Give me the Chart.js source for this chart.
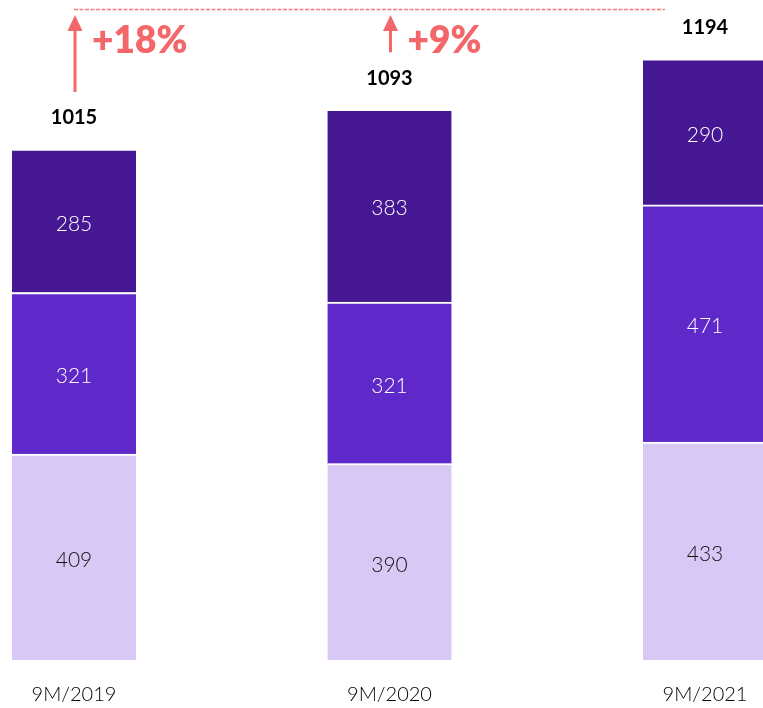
<!DOCTYPE html>
<html>
<head>
<meta charset="utf-8">
<script src="https://cdn.jsdelivr.net/npm/chart.js@4.4.1/dist/chart.umd.min.js"></script>
<style>
html,body{margin:0;padding:0;background:#fff;}
#wrap{width:763px;height:708px;position:relative;}
</style>
</head>
<body>
<div id="wrap"><canvas id="c" width="763" height="708"></canvas></div>
<script>
const categories = ['9M/2019', '9M/2020', '9M/2021'];
const seriesBottom = [409, 390, 433];
const seriesMiddle = [321, 321, 471];
const seriesTop = [285, 383, 290];
const totals = [1015, 1093, 1194];
const growthLabels = ['+18%', '+9%'];

const CORAL = '#f3666a';

const overlay = {
  id: 'overlay',
  afterDatasetsDraw(chart) {
    const ctx = chart.ctx;
    const xs = chart.scales.x;
    const area = chart.chartArea;
    ctx.save();
    // segment values
    chart.data.datasets.forEach((ds, i) => {
      const meta = chart.getDatasetMeta(i);
      meta.data.forEach((el, j) => {
        const cy = (el.y + el.base) / 2 + 3;
        ctx.fillStyle = i === 0 ? '#111' : '#fff';
        ctx.font = '300 21px Lato';
        ctx.textAlign = 'center';
        ctx.textBaseline = 'middle';
        ctx.fillText(String(ds.data[j]), el.x, cy);
      });
    });
    // totals
    const topMeta = chart.getDatasetMeta(chart.data.datasets.length - 1);
    const totalY = [];
    topMeta.data.forEach((el, j) => {
      const y = el.y - 31;
      totalY.push(y);
      ctx.fillStyle = '#000';
      ctx.font = 'bold 20px Lato';
      ctx.textAlign = 'center';
      ctx.textBaseline = 'middle';
      ctx.fillText(String(totals[j]), el.x, y);
    });
    // dashed line
    const lineY = area.top + 9.5;
    const xStart = xs.getPixelForValue(0);
    const xEnd = xs.getPixelForValue(2) - 40;
    ctx.strokeStyle = '#f47a7d';
    ctx.lineWidth = 1.5;
    ctx.setLineDash([4, 1.5]);
    ctx.beginPath();
    ctx.moveTo(xStart, lineY);
    ctx.lineTo(xEnd, lineY);
    ctx.stroke();
    ctx.setLineDash([]);
    // arrows + growth labels
    growthLabels.forEach((lab, k) => {
      const x = xs.getPixelForValue(k) + 1;
      const tip = area.top + 15;
      const bottom = totalY[k] - 26;
      ctx.strokeStyle = CORAL;
      ctx.fillStyle = CORAL;
      ctx.lineWidth = 3;
      ctx.beginPath();
      ctx.moveTo(x, bottom);
      ctx.lineTo(x, tip + 12);
      ctx.stroke();
      ctx.beginPath();
      ctx.moveTo(x, tip);
      ctx.lineTo(x - 7.5, tip + 16);
      ctx.lineTo(x + 7.5, tip + 16);
      ctx.closePath();
      ctx.fill();
      ctx.font = '800 37px Lato';
      ctx.textAlign = 'left';
      ctx.textBaseline = 'middle';
      ctx.fillText(lab, x + 17, area.top + 41);
    });
    ctx.restore();
  }
};

new Chart(document.getElementById('c'), {
  type: 'bar',
  data: {
    labels: categories,
    datasets: [
      { label: 'bottom', data: seriesBottom, backgroundColor: '#d8c8f6' },
      { label: 'middle', data: seriesMiddle, backgroundColor: '#5f29c9' },
      { label: 'top', data: seriesTop, backgroundColor: '#451792' }
    ]
  },
  options: {
    responsive: false,
    animation: false,
    devicePixelRatio: 1,
    layout: { padding: { left: 74, right: 58, top: 0, bottom: 0 } },
    datasets: {
      bar: {
        barThickness: 124,
        clip: false,
        borderColor: '#ffffff',
        borderWidth: { top: 2, left: 0, right: 0, bottom: 0 },
        borderSkipped: false
      }
    },
    plugins: {
      legend: { display: false },
      tooltip: { enabled: false }
    },
    scales: {
      x: {
        stacked: true,
        offset: false,
        grid: { display: false, drawTicks: false },
        border: { display: false },
        ticks: {
          color: '#000',
          font: { family: 'Lato', size: 20, weight: '300' },
          padding: 23,
          maxRotation: 0,
          autoSkip: false
        },
        afterFit(scale) {
          scale.height = 48;
          scale.paddingLeft = 0;
          scale.paddingRight = 0;
        }
      },
      y: {
        stacked: true,
        display: false,
        min: 0,
        max: 1311
      }
    }
  },
  plugins: [overlay]
});
</script>
</body>
</html>
